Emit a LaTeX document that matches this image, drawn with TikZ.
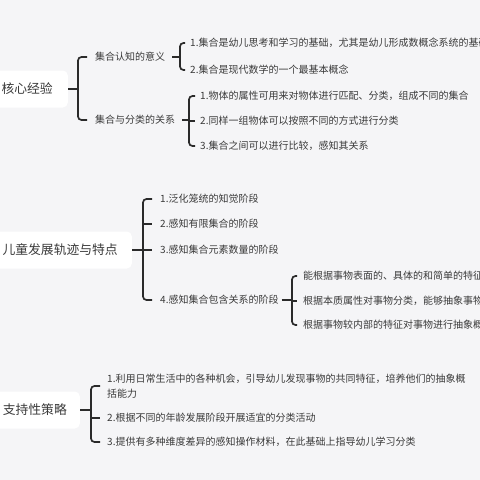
\documentclass[tikz,border=0pt]{standalone}
\usepackage{fontspec}
\setmainfont{Noto Sans CJK SC}
\usetikzlibrary{calc}
\definecolor{bg}{HTML}{F5F5F7}
\definecolor{ink}{HTML}{3A3A3A}
\definecolor{brk}{HTML}{2A2A2A}
\begin{document}
\begin{tikzpicture}[x=1pt,y=-1pt,
  rootbox/.style={fill=white,rounded corners=5pt,anchor=east,font=\fontsize{12.8}{14}\selectfont,text=ink,minimum height=37pt,inner ysep=0pt},
  leaf/.style={anchor=west,inner sep=0pt,font=\fontsize{10}{15}\selectfont,text=ink,align=left},
  br/.style={draw=brk,line width=1.7pt,rounded corners=3.5pt}]
\fill[bg] (0,0) rectangle (480,480);
\useasboundingbox (0,0) rectangle (480,480);
\clip (0,0) rectangle (480,480);

% vertical positions of brackets
\coordinate (v1) at (78,0);
\coordinate (v11) at (180,0);
\coordinate (v12) at (189,0);
\coordinate (v2) at (143,0);
\coordinate (v24) at (292,0);
\coordinate (v3) at (91,0);

% section 1
\node[rootbox,inner xsep=15pt] (r1) at (68,89) {核心经验};
\node[leaf] (a1) at (95,57) {集合认知的意义};
\node[leaf] (a2) at (95,120) {集合与分类的关系};
\node[leaf] (a11) at (190,43) {1.集合是幼儿思考和学习的基础，尤其是幼儿形成数概念系统的基础};
\node[leaf] (a12) at (190,70) {2.集合是现代数学的一个最基本概念};
\node[leaf] (a21) at (200,96) {1.物体的属性可用来对物体进行匹配、分类，组成不同的集合};
\node[leaf] (a22) at (200,121) {2.同样一组物体可以按照不同的方式进行分类};
\node[leaf] (a23) at (200,146) {3.集合之间可以进行比较，感知其关系};

\draw[br] (r1.east) -- (v1 |- r1.east);
\draw[br] ([xshift=-8pt]a1.west) -- (v1 |- a1.west) -- (v1 |- a2.west) -- ([xshift=-8pt]a2.west);
\draw[br] ([xshift=7pt]a1.east) -- (v11 |- a1.east);
\draw[br] ([xshift=-5pt]a11.west) -- (v11 |- a11.west) -- (v11 |- a12.west) -- ([xshift=-5pt]a12.west);
\draw[br] ([xshift=7pt]a2.east) -- (v12 |- a2.east);
\draw[br] ([xshift=-5pt]a21.west) -- (v12 |- a21.west) -- (v12 |- a23.west) -- ([xshift=-5pt]a23.west);
\draw[br] (v12 |- a22.west) -- ([xshift=-5pt]a22.west);

% section 2
\node[rootbox,inner xsep=14pt] (r2) at (132,250) {儿童发展轨迹与特点};
\node[leaf] (b1) at (160,199) {1.泛化笼统的知觉阶段};
\node[leaf] (b2) at (160,224) {2.感知有限集合的阶段};
\node[leaf] (b3) at (160,250) {3.感知集合元素数量的阶段};
\node[leaf] (b4) at (160,300) {4.感知集合包含关系的阶段};
\node[leaf] (b41) at (303,276) {能根据事物表面的、具体的和简单的特征};
\node[leaf] (b42) at (303,301) {根据本质属性对事物分类，能够抽象事物};
\node[leaf] (b43) at (303,325) {根据事物较内部的特征对事物进行抽象概};

\draw[br] (r2.east) -- (v2 |- r2.east);
\draw[br] ([xshift=-8pt]b1.west) -- (v2 |- b1.west) -- (v2 |- b4.west) -- ([xshift=-8pt]b4.west);
\draw[br] (v2 |- b2.west) -- ([xshift=-8pt]b2.west);
\draw[br] (v2 |- b3.west) -- ([xshift=-8pt]b3.west);
\draw[br] ([xshift=3pt]b4.east) -- (v24 |- b4.east);
\draw[br] ([xshift=-6pt]b41.west) -- (v24 |- b41.west) -- (v24 |- b43.west) -- ([xshift=-6pt]b43.west);
\draw[br] (v24 |- b42.west) -- ([xshift=-6pt]b42.west);

% section 3
\node[rootbox,inner xsep=13pt] (r3) at (80,410) {支持性策略};
\node[leaf] (c1) at (107,386) {1.利用日常生活中的各种机会，引导幼儿发现事物的共同特征，培养他们的抽象概\\括能力};
\node[leaf] (c2) at (107,418) {2.根据不同的年龄发展阶段开展适宜的分类活动};
\node[leaf] (c3) at (107,442) {3.提供有多种维度差异的感知操作材料，在此基础上指导幼儿学习分类};

\draw[br] (r3.east) -- (v3 |- r3.east);
\draw[br] ([xshift=-7pt]c1.west) -- (v3 |- c1.west) -- (v3 |- c3.west) -- ([xshift=-7pt]c3.west);
\draw[br] (v3 |- c2.west) -- ([xshift=-7pt]c2.west);
\end{tikzpicture}
\end{document}
